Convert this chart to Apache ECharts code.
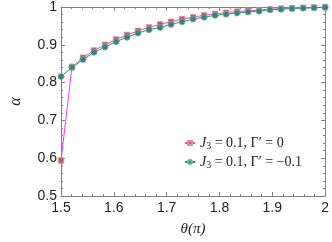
<!DOCTYPE html>
<html><head><meta charset="utf-8">
<script src="https://cdn.jsdelivr.net/npm/echarts@6/dist/echarts.min.js"></script>
<style>html,body{margin:0;padding:0;background:#fff}#c{width:332px;height:242px}</style>
</head><body><div id="c"></div>
<script>
const theta = [1.5, 1.5208, 1.5417, 1.5625, 1.5833, 1.6042, 1.625, 1.6458, 1.6667, 1.6875, 1.7083, 1.7292, 1.75, 1.7708, 1.7917, 1.8125, 1.8333, 1.8542, 1.875, 1.8958, 1.9167, 1.9375, 1.9583, 1.9792, 2.0];
const alphaA = [0.594, 0.842, 0.866, 0.885, 0.900, 0.914, 0.926, 0.937, 0.946, 0.954, 0.961, 0.968, 0.973, 0.978, 0.982, 0.985, 0.988, 0.990, 0.992, 0.994, 0.996, 0.997, 0.998, 0.999, 1.000];
const alphaB = [0.816, 0.840, 0.861, 0.880, 0.894, 0.908, 0.920, 0.931, 0.940, 0.946, 0.954, 0.961, 0.968, 0.973, 0.978, 0.981, 0.984, 0.987, 0.989, 0.993, 0.994, 0.996, 0.997, 0.998, 0.999];
const seriesNames = ['J3 = 0.1, Γ′ = 0', 'J3 = 0.1, Γ′ = −0.1'];
const legendRich = ['{i|J}{s|3}{n| = 0.1, Γ′ = 0}', '{i|J}{s|3}{n| = 0.1, Γ′ = −0.1}'];

const chart = echarts.init(document.getElementById('c'));
const axisCol = '#808080';
const SANS = "'Liberation Sans', Arial, sans-serif";
const SERIF = "'Liberation Serif', 'Times New Roman', serif";
const lab = {color:'#222', fontFamily:SANS, fontSize:14};
function xa(show, pos){ return {type:'value', min:1.5, max:2, interval:0.1, position:pos,
  axisLine:{show:true, onZero:false, lineStyle:{color:axisCol}},
  axisTick:{show:true, inside:true, length:4, lineStyle:{color:axisCol}},
  minorTick:{show:true, splitNumber:5, length:2, lineStyle:{color:axisCol}},
  splitLine:{show:false},
  axisLabel:Object.assign({show:show, margin:5}, lab)}; }
function ya(show, pos){ return {type:'value', min:0.5, max:1, interval:0.1, position:pos,
  axisLine:{show:true, onZero:false, lineStyle:{color:axisCol}},
  axisTick:{show:true, inside:true, length:4, lineStyle:{color:axisCol}},
  minorTick:{show:true, splitNumber:5, length:2, lineStyle:{color:axisCol}},
  splitLine:{show:false},
  axisLabel:Object.assign({show:show, margin:4}, lab)}; }
const xs = xa(true,'bottom');
xs.name = 'θ(π)'; xs.nameLocation='middle'; xs.nameGap=26;
xs.nameTextStyle = {fontFamily:SERIF, fontStyle:'italic', fontSize:15, color:'#222'};
const ys = ya(true,'left');
ys.name = 'α'; ys.nameLocation='middle'; ys.nameGap=37;
ys.nameTextStyle = {fontFamily:SERIF, fontStyle:'italic', fontSize:16, color:'#222'};
const xt = xa(false,'top'); const yr = ya(false,'right');

chart.setOption({
  animation:false,
  grid:{left:39.5, right:2.5, top:4.5, bottom:40},
  xAxis:[xs, xt],
  yAxis:[ys, yr],
  legend:{orient:'vertical', left:179, top:131, itemGap:4, itemWidth:10, itemHeight:5,
    data:seriesNames,
    formatter:function(n){ return legendRich[seriesNames.indexOf(n)]; },
    textStyle:{color:'#222', rich:{
      i:{fontFamily:SERIF, fontStyle:'italic', fontSize:14, color:'#222'},
      s:{fontFamily:SERIF, fontSize:10, color:'#222', verticalAlign:'bottom', padding:[6,0,0,0]},
      n:{fontFamily:SERIF, fontSize:14, color:'#222'}}}},
  series:[
    {name:seriesNames[0], type:'line', xAxisIndex:0, yAxisIndex:0,
     data: theta.map((t,i)=>[t, alphaA[i]]),
     symbol:'rect', symbolSize:5.5, z:2,
     lineStyle:{color:'#f03cf0', width:1},
     itemStyle:{color:'#b85c68', borderColor:'#e89090', borderWidth:0.8}},
    {name:seriesNames[1], type:'line', xAxisIndex:0, yAxisIndex:0,
     data: theta.map((t,i)=>[t, alphaB[i]]),
     symbol:'circle', symbolSize:6, z:3,
     lineStyle:{color:'#2e9a55', width:1},
     itemStyle:{color:'#3f7f7c', borderColor:'#6ab3a6', borderWidth:0.8}}
  ]
});
</script></body></html>
